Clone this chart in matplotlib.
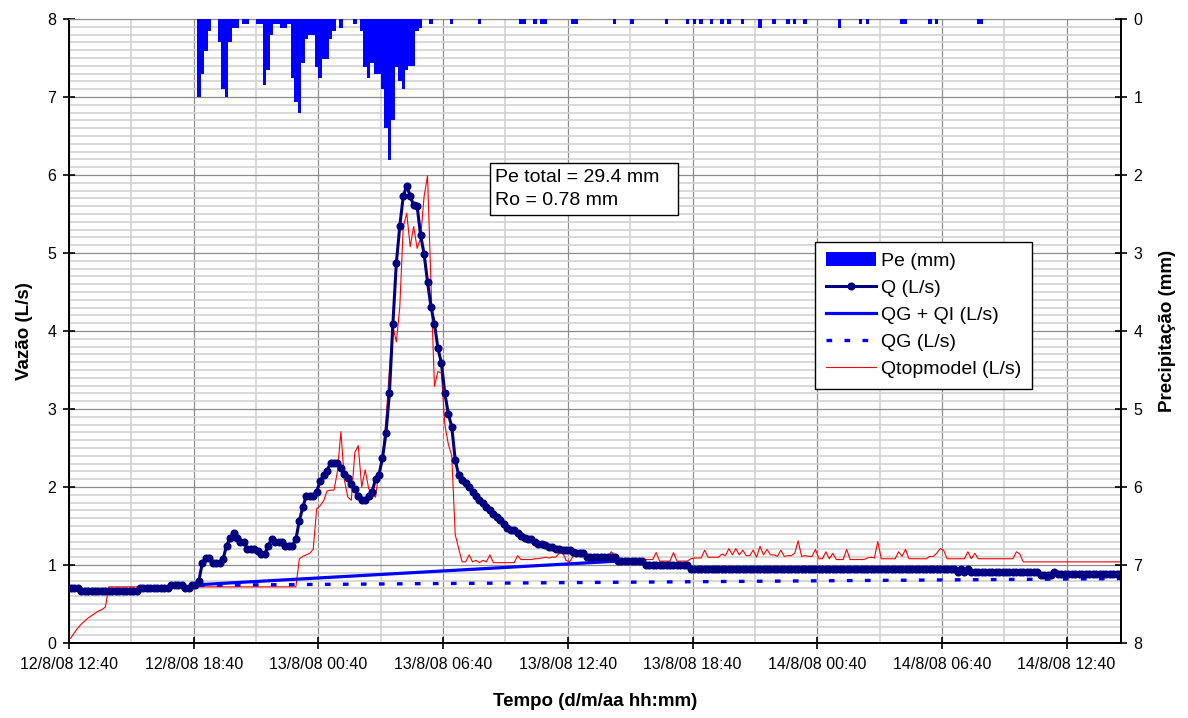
import matplotlib
matplotlib.use('Agg')
import matplotlib.pyplot as plt
import matplotlib.dates as mdates
from matplotlib.patches import Rectangle
import numpy as np
import pandas as pd

plt.rcParams['font.family'] = ['Liberation Sans', 'DejaVu Sans']

# 10-min series, index k -> 12/8/08 12:40 + (k + 0.5) * 10 min
t_start = pd.Timestamp('2008-08-12 12:40')
step_min = 10

# observed discharge Q (L/s)
q = ([0.70] * 3 + [0.67] * 17 + [0.70] * 9 + [0.75] * 4 + [0.70] * 2 + [0.75] * 2
     + [0.80, 1.03, 1.09, 1.09, 1.03, 1.03, 1.03, 1.08, 1.25, 1.34, 1.41, 1.34,
        1.30, 1.30, 1.20, 1.20, 1.20, 1.18, 1.14, 1.14, 1.25, 1.33, 1.29, 1.29,
        1.29, 1.25, 1.25, 1.25, 1.33, 1.57, 1.74, 1.89, 1.89, 1.89, 1.94, 2.08,
        2.15, 2.21, 2.31, 2.31, 2.31, 2.24, 2.17, 2.11, 2.04, 1.97, 1.89, 1.83,
        1.83, 1.88, 1.94, 2.10, 2.16, 2.37, 2.69, 3.20, 4.09, 4.87, 5.35, 5.73,
        5.86, 5.73, 5.61, 5.60, 5.23, 4.99, 4.63, 4.31, 4.09, 3.78, 3.59, 3.20,
        2.94, 2.77, 2.35, 2.15, 2.09, 2.05, 2.00, 1.94, 1.88, 1.83, 1.79, 1.74,
        1.71, 1.65, 1.61, 1.58, 1.53, 1.48, 1.45, 1.45, 1.41, 1.37, 1.34, 1.33,
        1.33, 1.30, 1.27, 1.27, 1.26, 1.23, 1.23, 1.20, 1.20, 1.19, 1.19, 1.19,
        1.17, 1.15, 1.15, 1.15]
     + [1.10] * 9 + [1.05] * 8 + [1.00] * 13 + [0.95] * 77
     + [0.91, 0.95, 0.91, 0.95] + [0.91] * 20 + [0.87] * 4 + [0.91] + [0.88] * 19)

# TOPMODEL simulated discharge (L/s)
q_top = ([0.06, 0.13, 0.19, 0.24, 0.28, 0.32, 0.35, 0.38, 0.41, 0.43, 0.46]
         + [0.72] * 55
         + [1.08, 1.11, 1.13, 1.15, 1.20, 1.72, 1.76, 1.82, 1.95, 1.96, 1.96,
            2.20, 2.71, 2.09, 1.87, 1.83, 2.44, 2.53, 2.00, 2.22, 1.98, 1.90,
            1.87, 2.20, 2.40, 2.85, 3.50, 4.06, 3.86, 4.31, 5.34, 5.51, 5.08,
            5.34, 5.06, 5.19, 5.72, 5.99, 4.60, 3.29, 3.48, 3.46, 2.80, 2.55,
            2.40, 1.39, 1.21, 1.04, 1.04, 1.13, 1.04, 1.06, 1.03, 1.06, 1.04,
            1.13, 1.03]
         + [1.03] * 6
         + [1.12, 1.07, 1.07, 1.07, 1.07, 1.08, 1.08, 1.09, 1.10, 1.09, 1.10,
            1.10, 1.15, 1.16, 1.06, 1.04, 1.11, 1.15, 1.15, 1.16, 1.15]
         + [1.09] * 6 + [1.17, 1.13, 1.07] + [1.07] * 10 + [1.16] + [1.05] * 4
         + [1.16] + [1.05] * 4 + [1.08, 1.09, 1.09, 1.09, 1.19, 1.10, 1.10,
            1.10, 1.10, 1.14, 1.12, 1.21, 1.13, 1.21, 1.13, 1.19, 1.12, 1.12,
            1.19, 1.10, 1.24, 1.13, 1.20, 1.13, 1.13, 1.11, 1.19, 1.11, 1.12,
            1.12, 1.15, 1.31, 1.11, 1.12, 1.11, 1.11, 1.20, 1.08, 1.08, 1.17,
            1.08, 1.15, 1.07, 1.07, 1.07, 1.20]
         + [1.07] * 5 + [1.09, 1.10, 1.09, 1.30] + [1.08] * 5
         + [1.17, 1.11, 1.20] + [1.08] * 6 + [1.11, 1.11, 1.15, 1.21, 1.19]
         + [1.08] * 6 + [1.17, 1.08, 1.15] + [1.08] * 11 + [1.17, 1.14]
         + [1.04] * 29)

# baseflow separation: straight segments (index, L/s)
qgqi_k = [36, 158]
qgqi_v = [0.745, 1.05]
qg_k = [37, 303]
qg_v = [0.74, 0.825]

# effective precipitation per 10-min interval (index, mm)
pe_k = [37, 38, 39, 40, 43, 44, 45, 46, 47, 48, 50, 51, 54, 55, 56, 57, 58, 59,
        60, 61, 62, 63, 64, 65, 66, 67, 68, 69, 70, 71, 72, 73, 74, 75, 76, 78,
        82, 84, 85, 86, 87, 88, 89, 90, 91, 92, 93, 94, 95, 96, 97, 98, 99, 100,
        101, 104, 110, 118, 130, 131, 134, 136, 137, 145, 146, 157, 162, 172,
        178, 180, 182, 185, 188, 190, 194, 199, 203, 207, 209, 212, 222, 228,
        230, 240, 241, 248, 250, 262, 263]
pe_mm = [1.00, 0.70, 0.41, 0.15, 0.30, 0.90, 1.00, 0.30, 0.11, 0.11, 0.06, 0.06,
         0.06, 0.06, 0.85, 0.66, 0.21, 0.06, 0.06, 0.11, 0.11, 0.06, 0.75, 1.06,
         1.20, 0.56, 0.25, 0.20, 0.20, 0.61, 0.75, 0.51, 0.51, 0.25, 0.15, 0.11,
         0.06, 0.15, 0.61, 0.75, 0.56, 0.70, 0.70, 0.90, 1.40, 1.81, 1.30, 0.61,
         0.80, 0.90, 0.66, 0.60, 0.60, 0.15, 0.11, 0.06, 0.06, 0.06, 0.06, 0.06,
         0.06, 0.06, 0.06, 0.06, 0.06, 0.06, 0.06, 0.06, 0.06, 0.06, 0.06, 0.06,
         0.06, 0.06, 0.06, 0.11, 0.06, 0.06, 0.06, 0.06, 0.11, 0.06, 0.06, 0.06,
         0.06, 0.06, 0.06, 0.06, 0.06]

tick_labels = ['12/8/08 12:40', '12/8/08 18:40', '13/8/08 00:40',
               '13/8/08 06:40', '13/8/08 12:40', '13/8/08 18:40',
               '14/8/08 00:40', '14/8/08 06:40', '14/8/08 12:40']

x0 = mdates.date2num(t_start.to_pydatetime())
dx = step_min / 1440.0


def to_x(k):
    return x0 + (np.asarray(k, dtype=float) + 0.5) * dx


fig = plt.figure(figsize=(11.88, 7.18), dpi=100)
ax = fig.add_axes([69 / 1188, 1 - 643 / 718, (1121 - 69) / 1188, (643 - 19) / 718])
ax2 = ax.twinx()

# precipitation bars hanging from the top on the inverted right axis
bars = ax2.bar(to_x(pe_k), pe_mm, width=dx, color='#0000FF', linewidth=0,
               label='Pe (mm)')

kk = np.arange(len(q_top))
l_top, = ax.plot(to_x(kk), q_top, color='#FF0000', lw=0.8, zorder=2,
                 label='Qtopmodel (L/s)')
l_qg, = ax.plot(to_x(qg_k), qg_v, color='#0000FF', lw=2.4,
                ls=(0, (1.7, 3.7)), zorder=3, label='QG (L/s)')
l_qgqi, = ax.plot(to_x(qgqi_k), qgqi_v, color='#0000FF', lw=2.3, zorder=3,
                  label='QG + QI (L/s)')
kq = np.arange(len(q))
ax.plot(to_x(kq[qgqi_k[1]:]), q[qgqi_k[1]:], color='#0000FF', lw=2.3, zorder=3)
l_q, = ax.plot(to_x(kq), q, color='#000080', lw=2.2, marker='o', ms=4.8,
               zorder=4, label='Q (L/s)')

# 6-hour labelled ticks, 3-hour light gridlines, 0.1 L/s light gridlines
major_x = x0 + np.arange(len(tick_labels)) * 0.25
minor_x = major_x[:-1] + 0.125
ax.set_xticks(major_x)
ax.set_xticklabels(tick_labels)
ax.set_xticks(minor_x, minor=True)
ax.set_yticks(np.arange(0, 9, 1))
ax.set_yticks(np.arange(0, 8.01, 0.1), minor=True)
ax2.set_yticks(np.arange(0, 9, 1))

x_end = x0 + 303.7 * dx
ax.set_xlim(x0, x_end)
ax.set_ylim(0, 8)
ax2.set_ylim(8, 0)

ax.grid(which='minor', color='#d2d2d2', lw=1.2, zorder=0)
ax.grid(which='major', color='#8c8c8c', lw=0.9, zorder=0)
ax.set_axisbelow(True)

ax.tick_params(which='major', direction='inout', length=8, width=1.2,
               labelsize=11.5, color='black')
ax.tick_params(axis='x', which='major', pad=6)
ax.tick_params(axis='y', which='major', pad=5)
ax.tick_params(which='minor', length=0)
ax2.tick_params(which='major', direction='inout', length=8, width=1.2,
                labelsize=11.5, pad=5)

for s in ['left', 'bottom']:
    ax.spines[s].set_color('black')
    ax.spines[s].set_linewidth(1.4)
ax.spines['top'].set_color('#8c8c8c')
ax.spines['right'].set_visible(False)
for s in ['left', 'bottom', 'top']:
    ax2.spines[s].set_visible(False)
ax2.spines['right'].set_color('black')
ax2.spines['right'].set_linewidth(1.4)

ax.set_xlabel('Tempo (d/m/aa hh:mm)', fontsize=13.5, fontweight='bold',
              labelpad=15.5)
ax.set_ylabel('Vazão (L/s)', fontsize=13.5, fontweight='bold', labelpad=10.5)
ax2.set_ylabel('Precipitação (mm)', fontsize=13.5, fontweight='bold',
               labelpad=12)

# summary box
ax2.add_patch(Rectangle((0.4002, 0.6859), 0.1787, 0.0833,
                        transform=ax2.transAxes, fc='white', ec='black',
                        lw=1, zorder=9))
ax2.text(0.405, 0.760, 'Pe total = 29.4 mm\nRo = 0.78 mm',
         transform=ax2.transAxes, ha='left', va='top', fontsize=14,
         linespacing=1.45, zorder=10)

leg = ax2.legend([bars, l_q, l_qgqi, l_qg, l_top],
                 ['Pe (mm)', 'Q (L/s)', 'QG + QI (L/s)', 'QG (L/s)',
                  'Qtopmodel (L/s)'],
                 loc='upper left', bbox_to_anchor=(0.709, 0.643),
                 fontsize=14, frameon=True, fancybox=False, framealpha=1,
                 edgecolor='black', handlelength=2.6, handletextpad=0.25,
                 labelspacing=0.48, borderpad=0.55, borderaxespad=0)
leg.get_frame().set_linewidth(1)
leg.set_zorder(20)

fig.savefig('out.png', dpi=100)
